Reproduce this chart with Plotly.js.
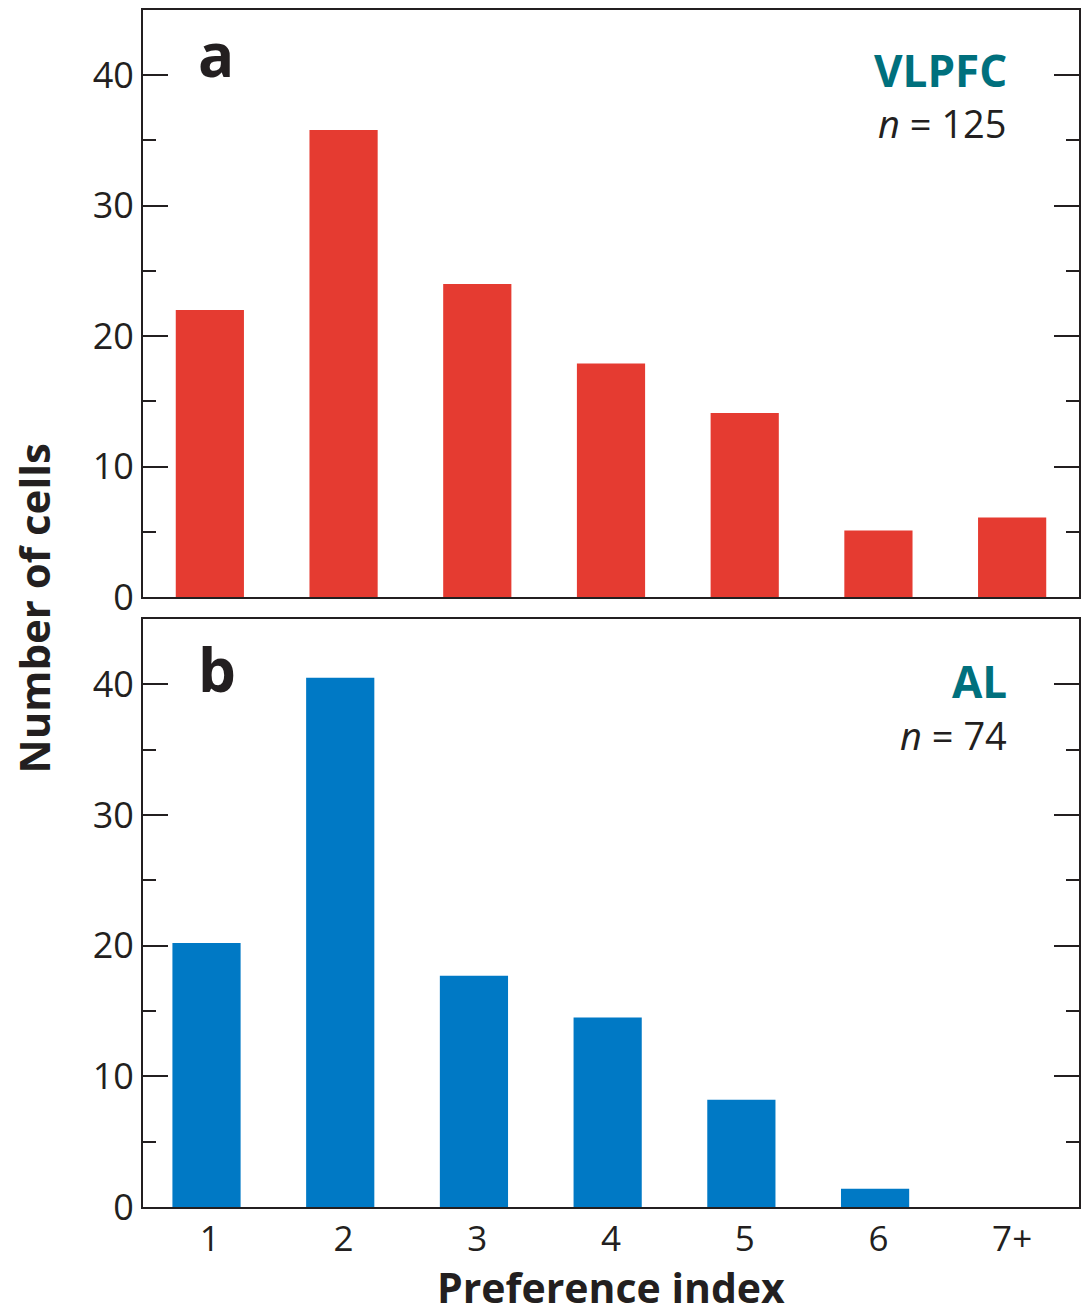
<!DOCTYPE html>
<html>
<head>
<meta charset="utf-8">
<script src="https://cdn.plot.ly/plotly-3.0.1.min.js"></script>
<style>html,body{margin:0;padding:0;background:#fff;}#chart{width:1081px;height:1312px;}</style>
</head>
<body>
<div id="chart"></div>
<script>
const categories = ['1', '2', '3', '4', '5', '6', '7+'];
const vlpfcCounts = [22, 35.8, 24, 17.9, 14.1, 5.1, 6.1];
const alCounts = [20.2, 40.5, 17.7, 14.5, 8.2, 1.4, 0];
const yTickVals = [0, 10, 20, 30, 40];
const panelLabels = ['a', 'b'];
const regionNames = ['VLPFC', 'AL'];
const regionN = [125, 74];

const RED = '#E53B31';
const BLUE = '#0079C5';
const TEAL = '#00707D';
const INK = '#231F20';
const FONT = 'Open Sans, Liberation Sans, sans-serif';

const traces = [
  {type: 'bar', x: categories, y: vlpfcCounts, xaxis: 'x2', yaxis: 'y2',
   marker: {color: RED, line: {width: 0}}, width: 0.51, hoverinfo: 'x+y'},
  {type: 'bar', x: categories, y: alCounts, xaxis: 'x', yaxis: 'y',
   marker: {color: BLUE, line: {width: 0}}, width: 0.51, offset: -0.28, hoverinfo: 'x+y'}
];

function yAxis(domain, anchor) {
  return {
    domain: domain, anchor: anchor, range: [0, 45], fixedrange: true,
    tickvals: yTickVals, ticktext: yTickVals.map(String),
    ticks: 'inside', ticklen: 25, tickwidth: 2, tickcolor: INK,
    minor: {tickvals: [5, 15, 25, 35], ticks: 'inside', ticklen: 13, tickwidth: 2, tickcolor: INK},
    showline: true, linecolor: INK, linewidth: 2, mirror: 'ticks',
    showgrid: false, zeroline: false,
    tickfont: {family: FONT, size: 36, color: INK},
    ticklabelstandoff: 0
  };
}

const layout = {
  width: 1081, height: 1312,
  margin: {l: 143, r: 2, t: 10, b: 105},
  paper_bgcolor: '#fff', plot_bgcolor: '#fff',
  showlegend: false,
  xaxis: {
    anchor: 'y', domain: [0, 1], type: 'category', range: [-0.5, 6.5],
    showline: true, linecolor: INK, linewidth: 2, mirror: true,
    ticks: '', showgrid: false, zeroline: false,
    tickfont: {family: FONT, size: 35, color: INK}
  },
  xaxis2: {
    anchor: 'y2', domain: [0, 1], type: 'category', range: [-0.5, 6.5], matches: 'x',
    showline: true, linecolor: INK, linewidth: 2, mirror: true,
    ticks: '', showticklabels: false, showgrid: false, zeroline: false
  },
  yaxis: yAxis([0, 0.4912], 'x'),
  yaxis2: yAxis([0.5096, 1], 'x2'),
  annotations: [
    {xref: 'x2 domain', yref: 'y2 domain', x: 0.057, y: 0.925, xanchor: 'left', yanchor: 'middle',
     text: '<b>' + panelLabels[0] + '</b>', showarrow: false, font: {family: FONT, size: 60, color: INK}},
    {xref: 'x domain', yref: 'y domain', x: 0.057, y: 0.915, xanchor: 'left', yanchor: 'middle',
     text: '<b>' + panelLabels[1] + '</b>', showarrow: false, font: {family: FONT, size: 60, color: INK}},
    {xref: 'x2 domain', yref: 'y2 domain', x: 0.925, y: 0.898, xanchor: 'right', yanchor: 'middle',
     text: '<b>' + regionNames[0] + '</b>', showarrow: false, font: {family: FONT, size: 44, color: TEAL}},
    {xref: 'x domain', yref: 'y domain', x: 0.925, y: 0.895, xanchor: 'right', yanchor: 'middle',
     text: '<b>' + regionNames[1] + '</b>', showarrow: false, font: {family: FONT, size: 44, color: TEAL}},
    {xref: 'x2 domain', yref: 'y2 domain', x: 0.925, y: 0.807, xanchor: 'right', yanchor: 'middle',
     text: '<i>n</i> = ' + regionN[0], showarrow: false, font: {family: FONT, size: 38, color: INK}},
    {xref: 'x domain', yref: 'y domain', x: 0.925, y: 0.802, xanchor: 'right', yanchor: 'middle',
     text: '<i>n</i> = ' + regionN[1], showarrow: false, font: {family: FONT, size: 38, color: INK}},
    {xref: 'paper', yref: 'paper', x: -0.1175, y: 0.5, xanchor: 'center', yanchor: 'middle', textangle: -90,
     text: '<b>Number of cells</b>', showarrow: false, font: {family: FONT, size: 42, color: INK}},
    {xref: 'paper', yref: 'paper', x: 0.5, y: 0, yshift: -51, xanchor: 'center', yanchor: 'top', borderpad: 0,
     text: '<b>Preference index</b>', showarrow: false, font: {family: FONT, size: 41, color: INK}}
  ]
};

Plotly.newPlot('chart', traces, layout, {staticPlot: true, displayModeBar: false});
</script>
</body>
</html>
